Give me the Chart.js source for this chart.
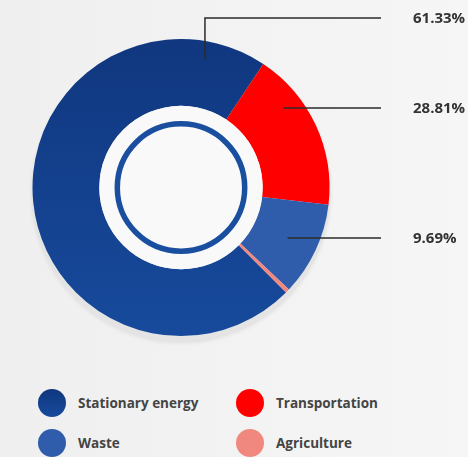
<!DOCTYPE html>
<html>
<head>
<meta charset="utf-8">
<script src="https://cdn.jsdelivr.net/npm/chart.js@4.4.0/dist/chart.umd.min.js"></script>
<style>
  html, body { margin: 0; padding: 0; }
  body {
    width: 468px; height: 457px; overflow: hidden; position: relative;
    background: linear-gradient(90deg, #efefef 0%, #f6f6f6 100%);
    font-family: "Open Sans", sans-serif;
  }
  #wrap { position: absolute; left: 0; top: 0; width: 468px; height: 375px; }
  .leg { position: absolute; display: flex; align-items: center; font-weight: 700; font-size: 13.5px; color: #444; }
  .leg i { display: block; width: 28px; height: 28px; border-radius: 50%; margin-right: 12px; }
</style>
</head>
<body>
<div id="wrap"><canvas id="chart"></canvas></div>
<div id="legend"></div>
<script>
// Data
const categories = ['Stationary energy', 'Transportation', 'Waste', 'Agriculture'];
const values = [71.85, 17.5, 10.2, 0.45];
const shareLabels = ['61.33%', '28.81%', '9.69%'];
const colors = ['#144191', '#ff0000', '#305dab', '#f08880'];

// where each leader line touches the ring (deg from top, fraction of outer radius)
const leaderAngles = [10.6, 52.3, 115.3];
const leaderRadii = [0.877, 0.877, 0.797];
const labelY = [18, 108, 238];

const ringPlugin = {
    id: 'ring',
    beforeDatasetsDraw(chart) {
        const arc = chart.getDatasetMeta(0).data[0];
        if (!arc) return;
        const { x, y, outerRadius } = arc.getProps(['x', 'y', 'outerRadius'], true);
        const ctx = chart.ctx;
        ctx.save();
        ctx.fillStyle = '#e4e4e4';
        ctx.shadowColor = 'rgba(0,0,0,0.08)';
        ctx.shadowBlur = 4;
        ctx.beginPath();
        ctx.arc(x, y + 6, outerRadius + 1, 0, Math.PI * 2);
        ctx.fill();
        ctx.restore();
    },
    afterDatasetsDraw(chart) {
        const arc = chart.getDatasetMeta(0).data[0];
        if (!arc) return;
        const { x, y, innerRadius, outerRadius } = arc.getProps(['x', 'y', 'innerRadius', 'outerRadius'], true);
        const ctx = chart.ctx;
        ctx.save();
        // inner disc + blue ring
        ctx.fillStyle = '#f9f9f9';
        ctx.beginPath();
        ctx.arc(x, y, innerRadius, 0, Math.PI * 2);
        ctx.fill();
        ctx.strokeStyle = '#1a4fa0';
        ctx.lineWidth = 5.5;
        ctx.beginPath();
        ctx.arc(x, y, innerRadius * 0.78, 0, Math.PI * 2);
        ctx.stroke();

        // leader lines and share labels
        ctx.strokeStyle = '#2b2b2b';
        ctx.lineWidth = 1.5;
        ctx.fillStyle = '#333';
        ctx.font = '700 15px "Open Sans"';
        ctx.textBaseline = 'middle';
        shareLabels.forEach((txt, i) => {
            const a = leaderAngles[i] * Math.PI / 180;
            const r = outerRadius * leaderRadii[i];
            const ax = x + Math.sin(a) * r;
            const ay = y - Math.cos(a) * r;
            ctx.beginPath();
            ctx.moveTo(ax, ay);
            ctx.lineTo(ax, labelY[i]);
            ctx.lineTo(381, labelY[i]);
            ctx.stroke();
            ctx.fillText(txt, 413, labelY[i] + 1);
        });
        ctx.restore();
    }
};

const stationaryFill = (context) => {
    const area = context.chart.chartArea;
    if (!area) return colors[0];
    const g = context.chart.ctx.createLinearGradient(0, area.top, 0, area.bottom);
    g.addColorStop(0, '#10377f');
    g.addColorStop(1, '#174a9c');
    return g;
};

const ctx = document.getElementById('chart').getContext('2d');
new Chart(ctx, {
    type: 'doughnut',
    data: {
        labels: categories,
        datasets: [{
            data: values,
            backgroundColor: (c) => c.dataIndex === 0 ? stationaryFill(c) : colors[c.dataIndex],
            borderWidth: 0
        }]
    },
    options: {
        responsive: true,
        maintainAspectRatio: false,
        animation: false,
        rotation: 135.0,
        cutout: '55%',
        layout: { padding: { left: 32, right: 138, top: 39, bottom: 39 } },
        plugins: { legend: { display: false }, tooltip: { enabled: false } }
    },
    plugins: [ringPlugin]
});

// legend
const legendPos = [[38, 403], [236, 403], [38, 443], [236, 443]];
const legend = document.getElementById('legend');
categories.forEach((name, i) => {
    const el = document.createElement('div');
    el.className = 'leg';
    el.style.left = legendPos[i][0] + 'px';
    el.style.top = (legendPos[i][1] - 14) + 'px';
    const bg = i === 0 ? 'linear-gradient(180deg, #10377f, #174a9c)' : colors[i];
    el.innerHTML = `<i style="background:${bg}"></i><span>${name}</span>`;
    legend.appendChild(el);
});
</script>
</body>
</html>
